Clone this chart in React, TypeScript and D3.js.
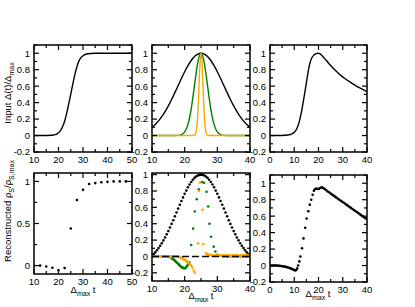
import React from 'react';
import * as d3 from 'd3';

// ---- top row: input pulses ----
const stepT = [10, 14, 17, 18, 19, 20, 21, 22, 23, 24, 25, 26, 27, 28, 29, 30, 31, 32, 33, 35, 40, 50];
const stepV = [0, 0, 0.003, 0.007, 0.015, 0.035, 0.07, 0.13, 0.23, 0.36, 0.5, 0.65, 0.78, 0.88, 0.94, 0.97, 0.985, 0.993, 0.997, 1, 1, 1];

const wideT = [10, 11, 12, 13, 14, 15, 16, 17, 18, 19, 20, 21, 22, 23, 24, 25, 26, 27, 28, 29, 30, 31, 32, 33, 34, 35, 36, 37, 38, 39, 40];
const wideV = [0.105, 0.135, 0.178, 0.23, 0.291, 0.36, 0.438, 0.521, 0.607, 0.693, 0.775, 0.849, 0.912, 0.96, 0.99, 1, 0.99, 0.96, 0.912, 0.849, 0.775, 0.693, 0.607, 0.521, 0.438, 0.36, 0.291, 0.23, 0.178, 0.135, 0.105];

const midT = [10, 17, 18, 19, 20, 20.5, 21, 21.5, 22, 22.5, 23, 23.5, 24, 24.5, 25, 25.5, 26, 26.5, 27, 27.5, 28, 28.5, 29, 29.5, 30, 31, 32, 33, 40];
const midV = [0, 0.0003, 0.002, 0.011, 0.044, 0.08, 0.135, 0.216, 0.325, 0.458, 0.607, 0.755, 0.882, 0.969, 1, 0.969, 0.882, 0.755, 0.607, 0.458, 0.325, 0.216, 0.135, 0.08, 0.044, 0.011, 0.002, 0.0003, 0];

const sharpT = [10, 22.5, 23, 23.5, 23.75, 24, 24.25, 24.5, 24.75, 25, 25.25, 25.5, 25.75, 26, 26.25, 26.5, 27, 27.5, 40];
const sharpV = [0, 0, 0.004, 0.044, 0.114, 0.249, 0.458, 0.707, 0.917, 1, 0.917, 0.707, 0.458, 0.249, 0.114, 0.044, 0.004, 0, 0];

const asymT = [0, 4, 6, 8, 9, 10, 11, 12, 13, 14, 15, 16, 17, 18, 19, 19.7, 20.5, 21.5, 23, 25, 27, 29, 31, 33, 35, 37, 40];
const asymV = [0, 0, 0.003, 0.01, 0.02, 0.04, 0.08, 0.16, 0.29, 0.46, 0.64, 0.82, 0.93, 0.975, 0.995, 1, 0.995, 0.97, 0.92, 0.85, 0.79, 0.735, 0.69, 0.65, 0.612, 0.58, 0.535];

// ---- bottom row: reconstructions ----
const recStepT = [10, 12.5, 15, 17.5, 20, 22.5, 25, 27.5, 30, 32.5, 35, 37.5, 40, 42.5, 45, 47.5];
const recStepV = [0, 0, -0.01, -0.025, -0.055, -0.03, 0.44, 0.78, 0.9, 0.97, 0.98, 0.99, 0.995, 1, 1, 1];

const recWideT = [10, 10.5, 11, 11.5, 12, 12.5, 13, 13.5, 14, 14.5, 15, 15.5, 16, 16.5, 17, 17.5, 18, 18.5, 19, 19.5, 20, 20.5, 21, 21.5, 22, 22.5, 23, 23.5, 24, 24.5, 25, 25.5, 26, 26.5, 27, 27.5, 28, 28.5, 29, 29.5, 30, 30.5, 31, 31.5, 32, 32.5, 33, 33.5, 34, 34.5, 35, 35.5, 36, 36.5, 37, 37.5, 38, 38.5, 39, 39.5, 40];
const recWideV = [0.01, 0.028, 0.05, 0.075, 0.102, 0.131, 0.162, 0.196, 0.232, 0.27, 0.31, 0.354, 0.398, 0.443, 0.49, 0.538, 0.585, 0.632, 0.678, 0.722, 0.765, 0.805, 0.845, 0.88, 0.91, 0.937, 0.96, 0.977, 0.99, 0.997, 1, 0.997, 0.99, 0.977, 0.96, 0.937, 0.91, 0.88, 0.845, 0.805, 0.765, 0.722, 0.678, 0.632, 0.585, 0.538, 0.49, 0.443, 0.398, 0.354, 0.31, 0.27, 0.232, 0.196, 0.162, 0.131, 0.102, 0.075, 0.05, 0.028, 0.01];

const recMidT = [10, 11, 12, 13, 14, 15, 15.5, 16, 16.25, 16.5, 16.75, 17, 17.25, 17.5, 17.75, 18, 18.25, 18.5, 18.75, 19, 19.25, 19.5, 19.75, 20, 20.25, 20.5, 20.75, 21, 21.2, 21.4, 22, 22.6, 23.1, 23.7, 24.3, 25.3, 25.9, 26.7, 27.2, 27.6, 28.1, 28.9, 29.4, 30, 31, 32, 33, 34, 35, 36, 37, 38, 39, 40];
const recMidV = [0, 0, 0, 0, 0, 0, -0.01, -0.02, -0.027, -0.035, -0.042, -0.05, -0.06, -0.07, -0.08, -0.09, -0.1, -0.11, -0.12, -0.13, -0.135, -0.14, -0.143, -0.145, -0.14, -0.13, -0.117, -0.1, -0.085, -0.07, 0.14, 0.34, 0.55, 0.7, 0.82, 0.91, 0.9, 0.79, 0.61, 0.4, 0.24, 0.12, 0.06, 0.02, 0.01, 0, 0, 0, 0, 0, 0, 0, 0, 0];

const recSharpT = [10, 10.25, 10.5, 10.75, 11, 11.25, 11.5, 11.75, 12, 12.25, 12.5, 12.75, 13, 13.25, 13.5, 13.75, 14, 14.25, 14.5, 14.75, 15, 15.25, 15.5, 15.75, 16, 16.25, 16.5, 16.75, 17, 17.25, 17.5, 17.75, 18, 18.25, 18.5, 18.75, 19, 19.25, 19.5, 19.75, 20, 20.25, 20.5, 20.75, 21, 21.25, 21.5, 21.75, 22, 22.4, 22.8, 23.1, 24.1, 24.4, 24.7, 25.5, 25.7, 26.5, 26.75, 27, 27.25, 27.5, 27.75, 28, 28.25, 28.5, 28.75, 29, 29.25, 29.5, 29.75, 30, 30.25, 30.5, 30.75, 31, 31.25, 31.5, 31.75, 32, 32.25, 32.5, 32.75, 33, 33.25, 33.5, 33.75, 34, 34.25, 34.5, 34.75, 35, 35.25, 35.5, 35.75, 36, 36.25, 36.5, 36.75, 37, 37.25, 37.5, 37.75, 38, 38.25, 38.5, 38.75, 39, 39.25, 39.5, 39.75, 40];
const recSharpV = [0, 0, 0, 0, 0, 0, 0, 0, 0, 0, 0, 0, 0, 0, 0, 0, 0, 0, 0, 0, 0, 0, 0, 0, 0, 0, 0, 0, 0, 0, 0, 0, 0, -0.005, -0.01, -0.015, -0.02, -0.025, -0.03, -0.035, -0.04, -0.047, -0.055, -0.062, -0.07, -0.08, -0.09, -0.102, -0.115, -0.14, -0.175, -0.2, 0.16, 0.8, 0.9, 0.57, 0.15, 0.04, 0.032, 0.025, 0.022, 0.02, 0.018, 0.015, 0.013, 0.012, 0.011, 0.01, 0.01, 0.01, 0.01, 0.01, 0.01, 0.01, 0.01, 0.01, 0.01, 0.01, 0.01, 0.01, 0.01, 0.01, 0.01, 0.01, 0.01, 0.01, 0.01, 0.01, 0.01, 0.01, 0.01, 0.01, 0.01, 0.01, 0.01, 0.01, 0.01, 0.01, 0.01, 0.01, 0.01, 0.01, 0.01, 0.01, 0.01, 0.01, 0.01, 0.01, 0.01, 0.01, 0.01, 0.01, 0.01, 0.01];

const recAsymT = [0, 0.5, 1, 1.5, 2, 2.5, 3, 3.5, 4, 4.5, 5, 5.5, 6, 6.5, 7, 7.5, 8, 8.5, 9, 9.5, 10, 10.4, 10.8, 11.2, 11.6, 12.1, 12.5, 13.2, 13.8, 14.5, 15.1, 15.8, 16.4, 17, 17.6, 18.1, 18.6, 19.2, 19.8, 20.3, 20.9, 21.4, 22, 22.6, 23.2, 23.8, 24.4, 25, 25.6, 26.2, 26.8, 27.4, 28, 28.6, 29.2, 29.8, 30.4, 31, 31.6, 32.2, 32.8, 33.4, 34, 34.6, 35.2, 35.8, 36.4, 37, 37.6, 38.2, 38.8, 39.4, 40];
const recAsymV = [0, 0, 0, 0, 0, 0, 0, -0.002, -0.004, -0.006, -0.008, -0.01, -0.013, -0.016, -0.02, -0.024, -0.029, -0.035, -0.041, -0.048, -0.055, -0.06, -0.055, -0.035, 0, 0.05, 0.11, 0.21, 0.33, 0.46, 0.57, 0.66, 0.74, 0.8, 0.86, 0.91, 0.93, 0.935, 0.93, 0.935, 0.945, 0.95, 0.94, 0.93, 0.915, 0.9, 0.89, 0.875, 0.862, 0.85, 0.837, 0.825, 0.812, 0.8, 0.787, 0.775, 0.762, 0.75, 0.737, 0.725, 0.712, 0.7, 0.687, 0.675, 0.662, 0.65, 0.637, 0.625, 0.612, 0.6, 0.587, 0.575, 0.565];

const FONT = '"Liberation Sans", Arial, Helvetica, sans-serif';
const ORANGE = '#ffa500';
const GREEN = '#008000';

const fmt = (v: number) => {
  const r = Math.round(v * 100) / 100;
  return r === 0 ? '0' : String(r);
};

function Panel(props: any) {
  const { x, y, w, h, xDomain, yDomain, xMajor, xMinor, yMajor, yMinor, children } = props;
  const xs = d3.scaleLinear().domain(xDomain).range([x, x + w]);
  const ys = d3.scaleLinear().domain(yDomain).range([y + h, y]);
  const big = 5;
  const small = 3;
  const tick = (key: string, x1: number, y1: number, x2: number, y2: number) => (
    <line key={key} x1={x1} y1={y1} x2={x2} y2={y2} stroke="#000" strokeWidth={1.2} />
  );
  const ticks: any[] = [];
  xMajor.forEach((t: number) => {
    ticks.push(tick('xb' + t, xs(t), y + h, xs(t), y + h - big));
    ticks.push(tick('xt' + t, xs(t), y, xs(t), y + big));
  });
  xMinor.forEach((t: number) => {
    ticks.push(tick('xbm' + t, xs(t), y + h, xs(t), y + h - small));
    ticks.push(tick('xtm' + t, xs(t), y, xs(t), y + small));
  });
  yMajor.forEach((t: number) => {
    ticks.push(tick('yl' + t, x, ys(t), x + big, ys(t)));
    ticks.push(tick('yr' + t, x + w, ys(t), x + w - big, ys(t)));
  });
  yMinor.forEach((t: number) => {
    ticks.push(tick('ylm' + t, x, ys(t), x + small, ys(t)));
    ticks.push(tick('yrm' + t, x + w, ys(t), x + w - small, ys(t)));
  });
  const clipId = 'clip' + x + '_' + y;
  return (
    <g>
      <defs>
        <clipPath id={clipId}>
          <rect x={x} y={y} width={w} height={h} />
        </clipPath>
      </defs>
      <g clipPath={`url(#${clipId})`}>{children(xs, ys)}</g>
      {ticks}
      <rect x={x} y={y} width={w} height={h} fill="none" stroke="#000" strokeWidth={1.5} />
      {xMajor.map((t: number) => (
        <text key={'xl' + t} x={xs(t)} y={y + h + 11} textAnchor="middle" fontSize={9.5}>
          {fmt(t)}
        </text>
      ))}
      {yMajor.map((t: number) => (
        <text key={'yl' + t} x={x - 4} y={ys(t) + 3.4} textAnchor="end" fontSize={9.5}>
          {fmt(t)}
        </text>
      ))}
    </g>
  );
}

function curve(xs: any, ys: any, T: number[], V: number[], color: string) {
  const line = d3
    .line<number>()
    .x((_, i) => xs(T[i]))
    .y((v) => ys(v))
    .curve(d3.curveMonotoneX);
  return <path d={line(V) || ''} fill="none" stroke={color} strokeWidth={1.4} />;
}

function dots(xs: any, ys: any, T: number[], V: number[], color: string, key: string) {
  return V.map((v, i) => <circle key={key + i} cx={xs(T[i])} cy={ys(v)} r={1.3} fill={color} />);
}

function TimeLabel({ x, y }: { x: number; y: number }) {
  return (
    <text x={x} y={y} textAnchor="middle" fontSize={9.5}>
      Δ<tspan fontSize={7} dy={2.5}>max</tspan>
      <tspan dy={-2.5}> t</tspan>
    </text>
  );
}

const yTop = [-0.2, 0, 0.2, 0.4, 0.6, 0.8, 1];
const yTopMinor = [-0.1, 0.1, 0.3, 0.5, 0.7, 0.9, 1.1];

export default function App() {
  return (
    <svg
      width={415}
      height={307}
      style={{ position: 'absolute', left: 0, top: 0, background: '#fff' }}
      fontFamily={FONT}
    >
      <rect width={415} height={307} fill="#fff" />
      <Panel x={34} y={45} w={98} h={107} xDomain={[10, 50]} yDomain={[-0.2, 1.1]}
        xMajor={[10, 20, 30, 40, 50]} xMinor={[15, 25, 35, 45]} yMajor={yTop} yMinor={yTopMinor}>
        {(xs: any, ys: any) => curve(xs, ys, stepT, stepV, '#000')}
      </Panel>
      <Panel x={152} y={45} w={98} h={107} xDomain={[10, 40]} yDomain={[-0.2, 1.1]}
        xMajor={[10, 20, 30, 40]} xMinor={[15, 25, 35]} yMajor={yTop} yMinor={yTopMinor}>
        {(xs: any, ys: any) => (
          <g>
            {curve(xs, ys, wideT, wideV, '#000')}
            {curve(xs, ys, midT, midV, GREEN)}
            {curve(xs, ys, sharpT, sharpV, ORANGE)}
          </g>
        )}
      </Panel>
      <Panel x={270} y={45} w={97} h={107} xDomain={[0, 40]} yDomain={[-0.2, 1.1]}
        xMajor={[0, 10, 20, 30, 40]} xMinor={[5, 15, 25, 35]} yMajor={yTop} yMinor={yTopMinor}>
        {(xs: any, ys: any) => curve(xs, ys, asymT, asymV, '#000')}
      </Panel>

      <Panel x={34} y={173} w={98} h={101} xDomain={[10, 50]} yDomain={[-0.1, 1.1]}
        xMajor={[10, 20, 30, 40, 50]} xMinor={[15, 25, 35, 45]} yMajor={[0, 0.5, 1]} yMinor={[0.25, 0.75]}>
        {(xs: any, ys: any) => dots(xs, ys, recStepT, recStepV, '#000', 's')}
      </Panel>
      <Panel x={152} y={173} w={98} h={108} xDomain={[10, 40]} yDomain={[-0.3, 1.02]}
        xMajor={[10, 20, 30, 40]} xMinor={[15, 25, 35]} yMajor={yTop} yMinor={[-0.1, 0.1, 0.3, 0.5, 0.7, 0.9]}>
        {(xs: any, ys: any) => (
          <g>
            {dots(xs, ys, recWideT, recWideV, '#000', 'w')}
            {dots(xs, ys, recMidT, recMidV, GREEN, 'm')}
            {dots(xs, ys, recSharpT, recSharpV, ORANGE, 'o')}
            <line x1={xs(10)} x2={xs(40)} y1={ys(0)} y2={ys(0)} stroke="#000" strokeWidth={1.4} strokeDasharray="7,3" />
          </g>
        )}
      </Panel>
      <Panel x={270} y={175} w={97} h={107} xDomain={[0, 40]} yDomain={[-0.2, 1.1]}
        xMajor={[0, 10, 20, 30, 40]} xMinor={[5, 15, 25, 35]} yMajor={yTop} yMinor={yTopMinor}>
        {(xs: any, ys: any) => dots(xs, ys, recAsymT, recAsymV, '#000', 'a')}
      </Panel>

      <text transform="translate(11,93) rotate(-90)" textAnchor="middle" fontSize={9.5}>
        Input Δ(t)/Δ<tspan fontSize={7} dy={2.5}>max</tspan>
      </text>
      <text transform="translate(11,211) rotate(-90)" textAnchor="middle" fontSize={9.5}>
        Reconstructed ρ<tspan fontSize={7} dy={2.5}>S</tspan>
        <tspan dy={-2.5}>/ρ</tspan>
        <tspan fontSize={7} dy={2.5}>S,max</tspan>
      </text>
      <TimeLabel x={83} y={293} />
      <TimeLabel x={201} y={299} />
      <TimeLabel x={318} y={297} />
    </svg>
  );
}
